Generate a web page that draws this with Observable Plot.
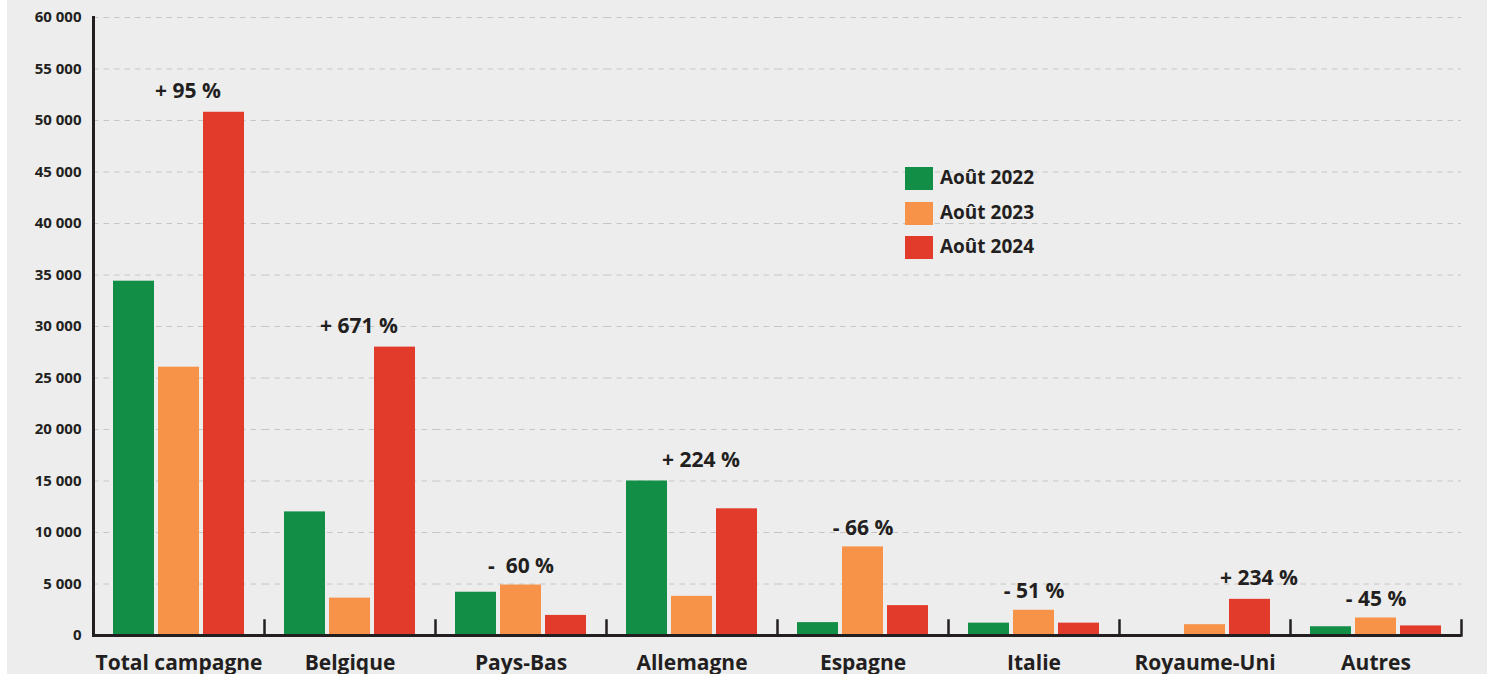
<!DOCTYPE html>
<html><head><meta charset="utf-8">
<script src="https://cdn.jsdelivr.net/npm/d3@7"></script>
<script src="https://cdn.jsdelivr.net/npm/@observablehq/plot@0.6"></script>
<style>
html,body{margin:0;padding:0;background:#ededed;overflow:hidden;width:1487px;height:674px;}
#wrap{position:relative;width:1487px;height:674px;}
#strip{position:absolute;left:0;top:0;width:7px;height:674px;background:#fff;}
#legend{position:absolute;left:905px;top:167px;font-family:"Open Sans";font-weight:700;font-size:19px;color:#231f20;}
.row{position:relative;height:23px;margin-bottom:11.5px;}
.sw{position:absolute;left:0;top:0;width:28px;height:23px;}
.lt{position:absolute;left:35px;top:-4px;line-height:28px;white-space:nowrap;}
svg text{white-space:pre;}
</style></head><body><div id="wrap"><div id="chart"></div><div id="strip"></div><div id="legend"></div></div>
<script>
const categories = ["Total campagne","Belgique","Pays-Bas","Allemagne","Espagne","Italie","Royaume-Uni","Autres"];
const series = ["Août 2022","Août 2023","Août 2024"];
const values2022 = [34400, 12000, 4200, 15000, 1250, 1200, 0, 850];
const values2023 = [26050, 3630, 4900, 3800, 8600, 2450, 1050, 1700];
const values2024 = [50800, 28000, 1950, 12300, 2900, 1200, 3510, 930];
const changeLabels = ["+ 95 %","+ 671 %","-  60 %","+ 224 %","- 66 %","- 51 %","+ 234 %","- 45 %"];
const labelAnchor = ["Août 2023","Août 2023","Août 2023","Août 2023","Août 2023","Août 2023","Août 2024","Août 2023"];
const yTicks = [0,5000,10000,15000,20000,25000,30000,35000,40000,45000,50000,55000,60000];
const colors = ["#128e46","#f69349","#e33b2b"];

const valuesBySeries = [values2022, values2023, values2024];
const data = [];
categories.forEach((c, i) => {
  series.forEach((s, j) => data.push({category: c, series: s, value: valuesBySeries[j][i]}));
});
const labels = categories.map((c, i) => ({
  category: c,
  series: labelAnchor[i],
  value: Math.max(values2022[i], values2023[i], values2024[i]),
  text: changeLabels[i],
  up: changeLabels[i].startsWith("+")
}));
const fmt = d3.formatLocale({thousands: "\u00a0", grouping: [3], decimal: ",", currency: ["", "€"]}).format(",");
const ink = "#231f20";

const chart = Plot.plot({
  width: 1487, height: 682,
  marginTop: 17, marginBottom: 47, marginLeft: 93, marginRight: 26,
  style: {background: "transparent", fontFamily: "Open Sans", color: ink, overflow: "visible"},
  fx: {domain: categories, paddingInner: 0, paddingOuter: 0, label: null},
  x: {domain: series, paddingInner: 0.085, paddingOuter: 0.41, axis: null},
  y: {domain: [0, 60000], label: null},
  color: {domain: series, range: colors},
  marks: [
    Plot.gridY(yTicks, {stroke: "#c6c6c6", strokeOpacity: 1, strokeDasharray: "5.5,5"}),
    Plot.axisY(yTicks, {tickSize: 0, tickPadding: 12, tickFormat: fmt, fontSize: 15, fontWeight: 700, label: null}),
    Plot.axisFx({anchor: "bottom", tickSize: 0, tickPadding: 20, fontSize: 21, fontWeight: 700, label: null}),
    Plot.barY(data, {fx: "category", x: "series", y: "value", fill: "series"}),
    Plot.ruleY([0], {stroke: ink, strokeWidth: 3}),
    Plot.frame({anchor: "left", facetAnchor: "left", stroke: ink, strokeWidth: 3}),
    Plot.frame({anchor: "left", insetTop: 603, stroke: ink, strokeWidth: 2.5}),
    Plot.frame({anchor: "right", insetTop: 603, facetAnchor: "right", stroke: ink, strokeWidth: 2.5}),
    Plot.text(labels.filter(d => d.up), {fx: "category", x: "series", y: "value", text: "text", dy: -21, dx: 9, fontSize: 21, fontWeight: 700, fill: ink}),
    Plot.text(labels.filter(d => !d.up), {fx: "category", x: "series", y: "value", text: "text", dy: -19, dx: 0, fontSize: 21, fontWeight: 700, fill: ink})
  ]
});
document.getElementById("chart").appendChild(chart);

const legend = document.getElementById("legend");
series.forEach((s, j) => {
  const row = document.createElement("div");
  row.className = "row";
  const sw = document.createElement("div");
  sw.className = "sw";
  sw.style.background = colors[j];
  const t = document.createElement("span");
  t.className = "lt";
  t.textContent = s;
  row.appendChild(sw);
  row.appendChild(t);
  legend.appendChild(row);
});
</script>
</body></html>
